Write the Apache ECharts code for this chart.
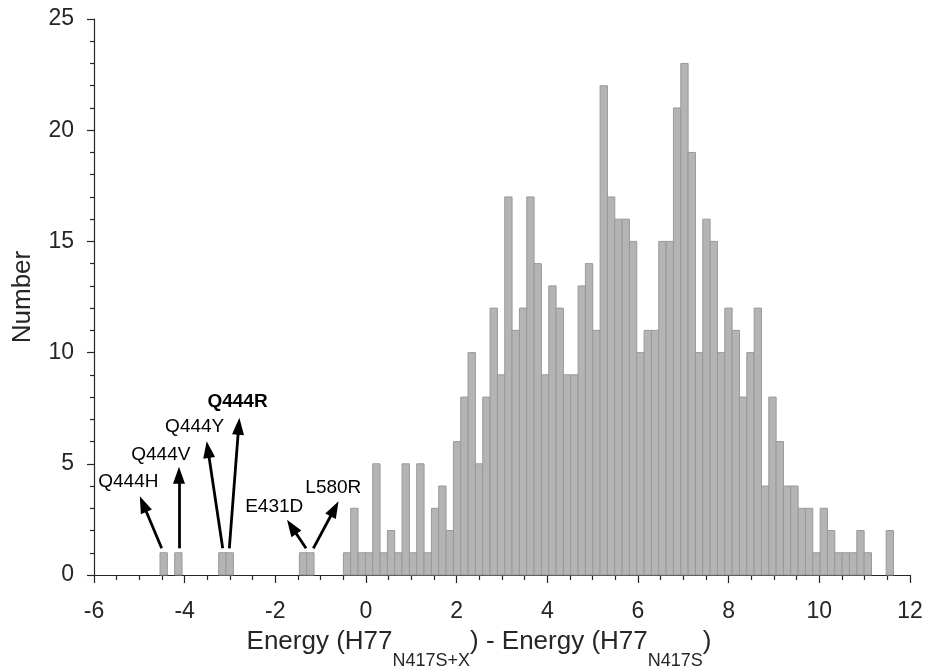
<!DOCTYPE html>
<html>
<head>
<meta charset="utf-8">
<script src="https://cdn.jsdelivr.net/npm/echarts@6/dist/echarts.min.js"></script>
<style>
html,body{margin:0;padding:0;background:#fff;}
#chart{width:930px;height:671px;}
</style>
</head>
<body>
<div id="chart"></div>
<script>
// Histogram: 100 bins, first bin left edge and bin width (energy units)
const binStart = -4.544;
const binWidth = 0.1618;
const counts = [
  1,0,1,0,0,0,0,0,1,1,
  0,0,0,0,0,0,0,0,0,1,
  1,0,0,0,0,1,3,1,1,5,
  1,2,1,5,1,5,1,3,4,2,
  6,8,10,5,8,12,9,17,11,12,
  17,14,9,13,12,9,9,13,14,11,
  22,17,16,16,15,10,11,11,15,15,
  21,23,19,10,16,15,10,12,11,8,
  10,12,4,8,6,4,4,3,3,1,
  3,2,1,1,1,2,1,0,0,2
];

// x-axis ticks / y-axis ticks
const xTicks = [-6, -4, -2, 0, 2, 4, 6, 8, 10, 12];
const yTicks = [0, 5, 10, 15, 20, 25];

// Annotations: label, arrow start, arrow head, label position (data units)
const annLabels = ['Q444H', 'Q444V', 'Q444Y', 'Q444R', 'E431D', 'L580R'];
const annBold = [false, false, false, true, false, false];
const annStart = [[-4.507, 1.2], [-4.125, 1.2], [-3.161, 1.2], [-3.015, 1.2], [-1.323, 1.2], [-1.162, 1.2]];
const annHead = [[-4.917, 3.19], [-4.125, 4.48], [-3.487, 5.64], [-2.808, 6.69], [-1.639, 2.17], [-0.694, 2.98]];
const annText = [[-5.243, 4.19], [-4.526, 5.40], [-3.779, 6.67], [-2.834, 7.79], [-2.025, 3.07], [-0.721, 3.90]];

const FONT = "'Liberation Sans', Arial, Helvetica, sans-serif";

const binData = counts.map((c, i) => [binStart + i * binWidth, binStart + (i + 1) * binWidth, c]);

const chart = echarts.init(document.getElementById('chart'), null, {renderer: 'canvas'});

const option = {
  animation: false,
  backgroundColor: '#ffffff',
  grid: {left: 94, right: 20, top: 19, bottom: 96, containLabel: false, outerBoundsMode: 'none'},
  xAxis: {
    type: 'value',
    min: xTicks[0],
    max: xTicks[xTicks.length - 1],
    interval: 2,
    splitLine: {show: false},
    axisLine: {show: true, onZero: false, lineStyle: {color: '#262626', width: 1.2}},
    axisTick: {show: true, inside: false, length: 8, lineStyle: {color: '#262626', width: 1.2}},
    minorTick: {show: true, splitNumber: 4, length: 5, lineStyle: {color: '#262626', width: 1.2}},
    axisLabel: {color: '#262626', fontSize: 23, fontFamily: FONT, margin: 25},
    name: '{a|Energy (H77}{s|N417S+X}{a|) - Energy (H77}{s|N417S}{a|)}',
    nameLocation: 'middle',
    nameGap: 54,
    nameTextStyle: {
      color: '#262626',
      fontFamily: FONT,
      padding: [0, 46, 0, 0],
      rich: {
        a: {fontSize: 26, fontFamily: FONT, color: '#262626', padding: [0, 0, 15, 0], verticalAlign: 'bottom'},
        s: {fontSize: 18, fontFamily: FONT, color: '#262626', verticalAlign: 'bottom'}
      }
    }
  },
  yAxis: {
    type: 'value',
    min: yTicks[0],
    max: yTicks[yTicks.length - 1],
    interval: 5,
    splitLine: {show: false},
    axisLine: {show: true, onZero: false, lineStyle: {color: '#262626', width: 1.2}},
    axisTick: {show: true, inside: false, length: 7, lineStyle: {color: '#262626', width: 1.2}},
    minorTick: {show: true, splitNumber: 5, length: 4, lineStyle: {color: '#262626', width: 1.2}},
    axisLabel: {color: '#262626', fontSize: 23, fontFamily: FONT, margin: 20},
    name: 'Number',
    nameLocation: 'middle',
    nameGap: 58,
    nameTextStyle: {color: '#262626', fontSize: 26, fontFamily: FONT}
  },
  series: [{
    type: 'custom',
    data: binData,
    encode: {x: [0, 1], y: 2},
    clip: false,
    renderItem: function (params, api) {
      const c = api.value(2);
      if (!c) return null;
      const p0 = api.coord([api.value(0), 0]);
      const p1 = api.coord([api.value(1), c]);
      return {
        type: 'rect',
        shape: {x: p0[0], y: p1[1], width: p1[0] - p0[0], height: p0[1] - p1[1]},
        style: {fill: '#b4b4b4', stroke: '#999999', lineWidth: 1}
      };
    },
    markLine: {
      silent: true,
      animation: false,
      symbol: ['none', 'triangle'],
      label: {show: false},
      emphasis: {disabled: true},
      lineStyle: {color: '#000', width: 2.8, type: 'solid'},
      data: annStart.map((s, i) => [
        {coord: s, symbol: 'none'},
        {coord: annHead[i], symbol: 'triangle', symbolSize: [12, 17]}
      ])
    },
    markPoint: {
      silent: true,
      animation: false,
      symbol: 'circle',
      symbolSize: 0,
      data: annText.map((p, i) => ({
        coord: p,
        label: {
          show: true,
          position: 'inside',
          formatter: annLabels[i],
          color: '#000',
          fontSize: 19,
          fontFamily: FONT,
          fontWeight: annBold[i] ? 'bold' : 'normal'
        }
      }))
    }
  }]
};

chart.setOption(option);
</script>
</body>
</html>
